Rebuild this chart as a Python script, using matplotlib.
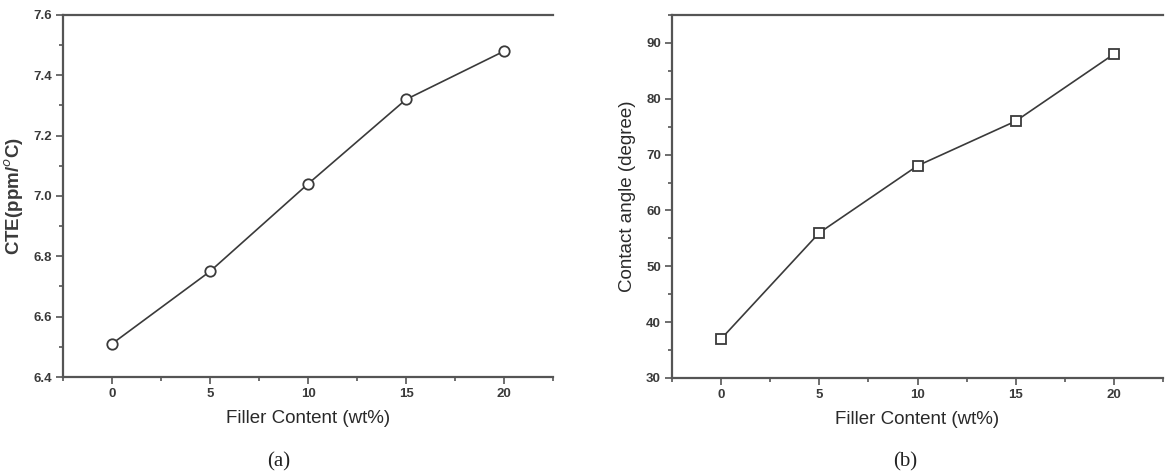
import numpy as np
import matplotlib.pyplot as plt
from matplotlib.ticker import MultipleLocator

# filler content (wt%)
filler = [0, 5, 10, 15, 20]
# panel (a): coefficient of thermal expansion
cte = [6.51, 6.75, 7.04, 7.32, 7.48]
# panel (b): contact angle
angle = [37, 56, 68, 76, 88]

plt.rcParams['font.family'] = ['Liberation Sans', 'DejaVu Sans']
ink = '#3a3a3a'

fig = plt.figure(figsize=(11.67, 4.74), dpi=100)
W, H = 1167, 474


def box(x0, y0, x1, y1):
    return [x0 / W, 1 - y1 / H, (x1 - x0) / W, (y1 - y0) / H]


ax1 = fig.add_axes(box(63, 15, 553, 377))
ax2 = fig.add_axes(box(672, 15, 1163, 378))

ax1.plot(filler, cte, color=ink, lw=1.2, marker='o', ms=7.5,
         mfc='white', mec=ink, mew=1.3)
ax2.plot(filler, angle, color=ink, lw=1.2, marker='s', ms=7,
         mfc='white', mec=ink, mew=1.3)

ax1.set_ylim(6.4, 7.6)
ax1.yaxis.set_major_locator(MultipleLocator(0.2))
ax1.yaxis.set_minor_locator(MultipleLocator(0.1))
ax1.yaxis.set_major_formatter(plt.FormatStrFormatter('%.1f'))
ax2.set_ylim(30, 95)
ax2.yaxis.set_major_locator(MultipleLocator(10))
ax2.yaxis.set_minor_locator(MultipleLocator(5))

for ax in (ax1, ax2):
    ax.set_xlim(-2.5, 22.5)
    ax.xaxis.set_major_locator(MultipleLocator(5))
    ax.xaxis.set_minor_locator(MultipleLocator(2.5))
    ax.spines['right'].set_visible(False)
    for s in ('left', 'bottom', 'top'):
        ax.spines[s].set_color('#555555')
        ax.spines[s].set_linewidth(1.6)
    ax.tick_params(which='both', direction='out', color='#555555', width=1.2,
                   top=False, right=False)
    ax.tick_params(which='major', length=5, pad=3, labelsize=9.5, labelcolor=ink)
    ax.tick_params(which='minor', length=3)
    for lab in ax.get_xticklabels() + ax.get_yticklabels():
        lab.set_fontweight('bold')
    ax.set_xlabel('Filler Content (wt%)', fontsize=13.5, color='#2a2a2a', labelpad=7)

ax1.set_ylabel('CTE(ppm/$^o$C)', fontsize=13.5, fontweight='bold', color=ink, labelpad=5)
ax2.set_ylabel('Contact angle (degree)', fontsize=13.5, color='#2a2a2a', labelpad=7)

fig.text(279 / W, 1 - 462 / H, '(a)', ha='center', va='center',
         fontsize=15, family='Liberation Serif', color='#222222')
fig.text(905 / W, 1 - 462 / H, '(b)', ha='center', va='center',
         fontsize=15, family='Liberation Serif', color='#222222')

fig.savefig('out.png', dpi=100)
